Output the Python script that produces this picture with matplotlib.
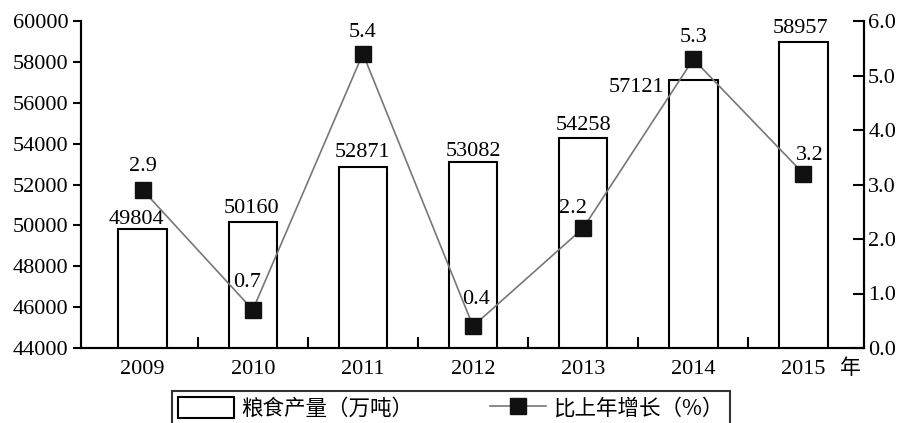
import matplotlib
matplotlib.use("Agg")
import matplotlib.pyplot as plt
from matplotlib.ticker import FixedLocator
import numpy as np

years = ['2009', '2010', '2011', '2012', '2013', '2014', '2015']
output = [49804, 50160, 52871, 53082, 54258, 57121, 58957]   # 粮食产量(万吨)
growth = [2.9, 0.7, 5.4, 0.4, 2.2, 5.3, 3.2]                 # 比上年增长(%)

# label nudges in pixels (dx, dy) from bar top / marker
bar_offsets = [(-6, 10), (-1, 14), (0, 14), (0, 11), (0, 13), (-57, -8), (-3, 14)]
pct_offsets = [(0, 23), (-6, 27), (0, 21), (3, 27), (-10, 20), (0, 22), (6, 18)]

serif = ['Liberation Serif', 'DejaVu Serif']
cjk = ['Noto Sans CJK SC', 'DejaVu Sans']
plt.rcParams['font.family'] = serif
plt.rcParams['font.size'] = 16

fig = plt.figure(figsize=(9.01, 4.23), dpi=100)
ax = fig.add_axes([81 / 901, 1 - 348 / 423, (864 - 81) / 901, (348 - 21) / 423])
ax2 = ax.twinx()

x = np.arange(len(years))
bars = ax.bar(x, output, width=0.44, color='white', edgecolor='black',
              linewidth=1.5, zorder=2)
ax.set_ylim(44000, 60000)
ax.set_xlim(-0.56, 6.55)
ax.set_yticks(np.arange(44000, 60001, 2000))
ax.set_xticks(x)
ax.set_xticklabels(years)
ax.xaxis.set_minor_locator(FixedLocator(x[:-1] + 0.5))
ax.tick_params(axis='x', which='major', length=0, pad=9)
ax.tick_params(axis='x', which='minor', direction='in', length=8, width=1.5)
ax.tick_params(axis='y', direction='out', length=6, width=1.5, pad=3)

for v, xi, (dx, dy) in zip(output, x, bar_offsets):
    ax.annotate(str(v), (xi, v), xytext=(dx, dy), textcoords='offset pixels',
                ha='center', va='center', fontsize=16, zorder=5)

ln, = ax2.plot(x, growth, color='#777777', linewidth=1.2, marker='s',
               markersize=11, markerfacecolor='#111111', markeredgecolor='#111111',
               zorder=4)
ax2.set_ylim(0, 6)
ax2.set_yticks(np.arange(0, 6.01, 1.0))
ax2.set_yticklabels([f'{t:.1f}' for t in np.arange(0, 6.01, 1.0)])
ax2.tick_params(axis='y', direction='in', length=8, width=1.5, pad=3)

for v, xi, (dx, dy) in zip(growth, x, pct_offsets):
    ax2.annotate(f'{v:.1f}', (xi, v), xytext=(dx, dy), textcoords='offset pixels',
                 ha='center', va='center', fontsize=16, zorder=5)

for a in (ax, ax2):
    a.spines['top'].set_visible(False)
    for s in ('left', 'right', 'bottom'):
        a.spines[s].set_linewidth(1.5)

fig.text(850 / 901, 1 - 368 / 423, '年', family=cjk, fontsize=15,
         ha='center', va='center')

leg = fig.legend([bars, ln], ['粮食产量（万吨）', '比上年增长（%）'], ncol=2,
                 loc='upper left', bbox_to_anchor=(172 / 901, 1 - 391 / 423),
                 frameon=True, fancybox=False, edgecolor='black',
                 prop={'family': cjk, 'size': 15.5}, handlelength=2.6,
                 handleheight=1.1, columnspacing=3.6, borderpad=0.3,
                 handletextpad=0.3, borderaxespad=0)
leg.get_frame().set_linewidth(1.5)

fig.savefig('out.png', dpi=100)
